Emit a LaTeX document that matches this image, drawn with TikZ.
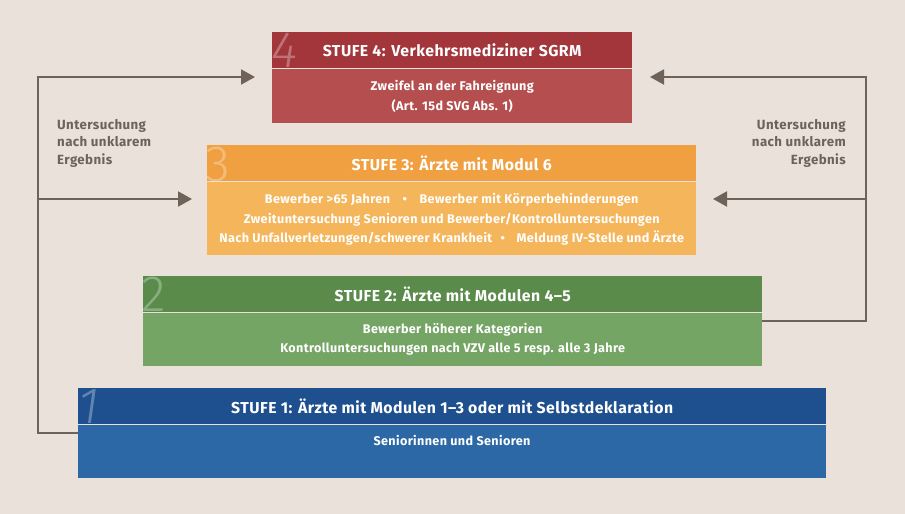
\documentclass[tikz,border=0pt]{standalone}
\usepackage{fontspec}
\setmainfont{Fira Sans}[LetterSpace=3]
\newfontfamily\thinfont{Fira Sans}[UprightFont=* Light, ItalicFont=* Light Italic, BoldFont=* Light]
\usetikzlibrary{arrows.meta}
\definecolor{bg}{HTML}{E9E1DA}
\definecolor{rA}{HTML}{A2363A}
\definecolor{rB}{HTML}{B54F4F}
\definecolor{oA}{HTML}{F0A041}
\definecolor{oB}{HTML}{F5B55A}
\definecolor{gA}{HTML}{5A8B4B}
\definecolor{gB}{HTML}{75A565}
\definecolor{bA}{HTML}{1E4F8E}
\definecolor{bB}{HTML}{2B68A5}
\definecolor{ln}{HTML}{6E6259}
\begin{document}
\begin{tikzpicture}[x=1pt,y=-1pt,
  hdr/.style={anchor=north west, inner sep=0pt, minimum height=36pt, text=white,
    font=\bfseries\fontsize{15.8}{18}\selectfont},
  bdy/.style={anchor=north west, inner sep=0pt, text=white, align=center,
    font=\bfseries\fontsize{12.6}{19.5}\selectfont},
  num/.style={anchor=base west, inner sep=0pt, text=white, text opacity=0.3,
    font=\thinfont\fontsize{51}{51}\selectfont},
  numsl/.style={num, font=\thinfont\itshape\fontsize{51}{51}\selectfont},
  lbl/.style={inner sep=0pt, text=ln, font=\bfseries\fontsize{13.3}{17.5}\selectfont},
  conn/.style={draw=ln, line width=2pt},
  arr/.style={conn, -{Triangle[length=14pt,width=15pt]}}
]
\useasboundingbox (0,0) rectangle (905,514);
\fill[bg] (0,0) rectangle (905,514);

% Stufe 4
\node[hdr, fill=rA, minimum width=360pt] (h4) at (272,32) {STUFE 4: Verkehrsmediziner SGRM};
\node[bdy, fill=rB, minimum width=360pt, minimum height=54pt] (b4) at (h4.south west)
  {\rule{0pt}{12pt}Zweifel an der Fahreignung\\(Art. 15d SVG Abs. 1)};
\node[numsl] (n4) at (271,67) {4};

% Stufe 3
\node[hdr, fill=oA, minimum width=489pt] (h3) at (207,145) {STUFE 3: Ärzte mit Modul 6};
\node[bdy, fill=oB, minimum width=489pt, minimum height=73pt] (b3) at (h3.south west)
  {\rule{0pt}{13pt}Bewerber >65 Jahren\quad\textbullet\quad Bewerber mit Körperbehinderungen\\
   Zweituntersuchung Senioren und Bewerber/Kontrolluntersuchungen\\
   Nach Unfallverletzungen/schwerer Krankheit\enspace\hspace{2pt}\textbullet\enspace\hspace{2pt} Meldung IV-Stelle und Ärzte};
\node[num] (n3) at (205,181) {3};

% Stufe 2
\node[hdr, fill=gA, minimum width=619pt] (h2) at (143,276) {STUFE 2: Ärzte mit Modulen 4–5};
\node[bdy, fill=gB, minimum width=619pt, minimum height=53pt] (b2) at (h2.south west)
  {Bewerber höherer Kategorien\\Kontrolluntersuchungen nach VZV alle 5 resp. alle 3 Jahre};
\node[num] (n2) at (141,311) {2};

% Stufe 1
\node[hdr, fill=bA, minimum width=748pt] (h1) at (78,388) {STUFE 1: Ärzte mit Modulen 1–3 oder mit Selbstdeklaration};
\node[bdy, fill=bB, minimum width=748pt, minimum height=53pt] (b1) at (h1.south west) {};
\node[inner sep=0pt, text=white, font=\bfseries\fontsize{12.6}{14}\selectfont] (t1) at (452,440) {Seniorinnen und Senioren};
\node[numsl] (n1) at (78,423) {1};

% labels
\node[lbl, anchor=north west, align=left] (lL) at (57,119) {Untersuchung\\nach unklarem\\Ergebnis};
\node[lbl, anchor=north east, align=right] (lR) at (846,119) {Untersuchung\\nach unklarem\\Ergebnis};

% left loop
\coordinate (L0) at (b1.west |- 0,433);
\coordinate (Lb) at (38,433);
\coordinate (Lm) at (38,199);
\coordinate (Lt) at (38,77);
\coordinate (Ltip4) at (255,77);
\coordinate (Ltip3) at (192,199);
\draw[arr] (L0) -- (Lb) -- (Lt) -- (Ltip4);
\draw[arr] (Lm) -- (Ltip3);

% right loop
\coordinate (R0) at (b2.east |- 0,321);
\coordinate (Rb) at (866,321);
\coordinate (Rm) at (866,199);
\coordinate (Rt) at (866,77);
\coordinate (Rtip4) at (650,77);
\coordinate (Rtip3) at (713,199);
\draw[arr] (R0) -- (Rb) -- (Rt) -- (Rtip4);
\draw[arr] (Rm) -- (Rtip3);
\end{tikzpicture}
\end{document}
